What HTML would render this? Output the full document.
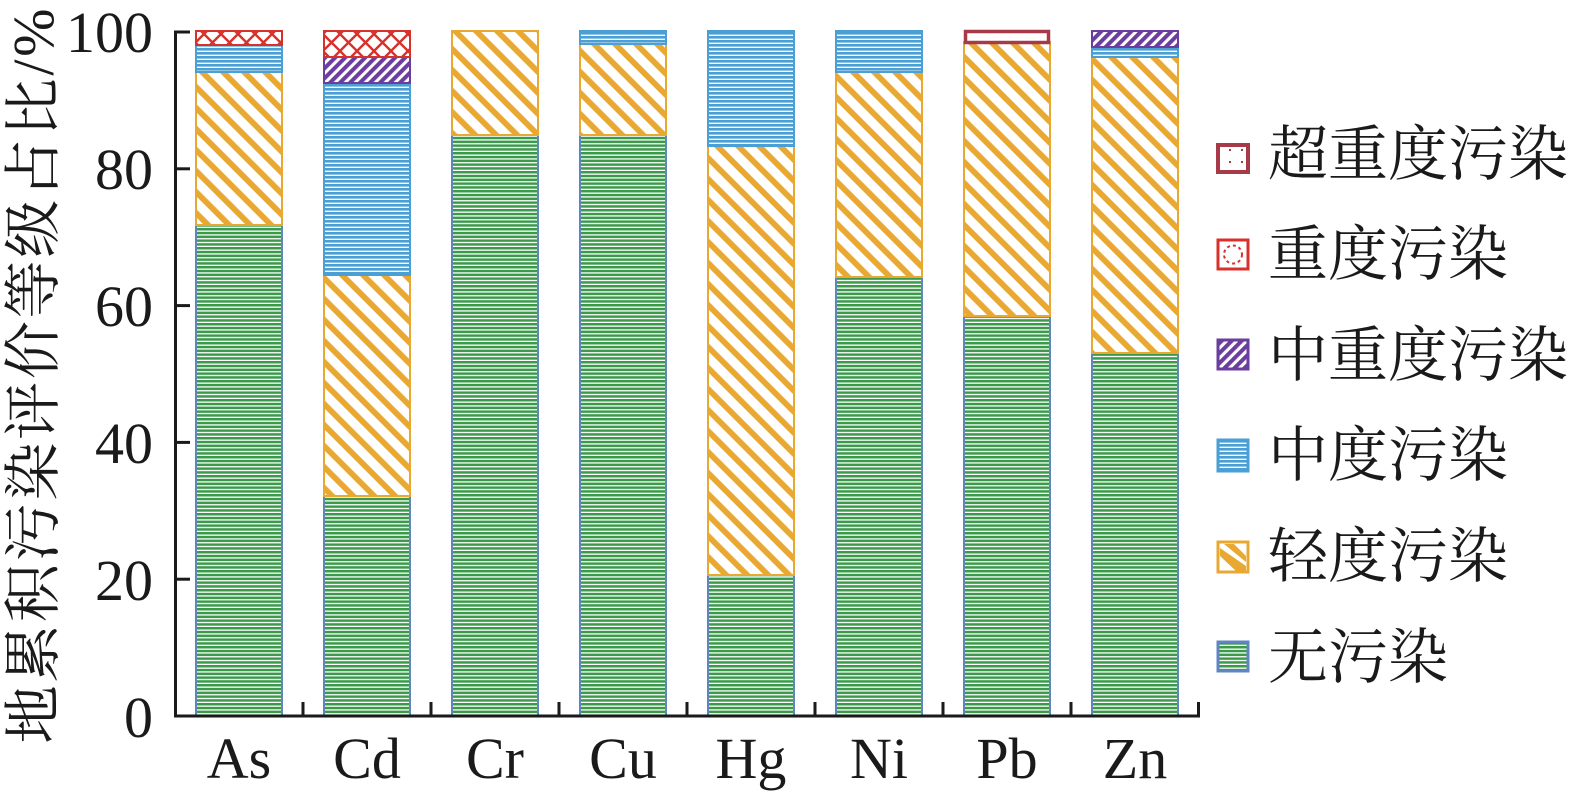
<!DOCTYPE html>
<html>
<head>
<meta charset="utf-8">
<style>
html,body{margin:0;padding:0;background:#fff;}
svg{display:block;}
</style>
</head>
<body>
<svg width="1575" height="797" viewBox="0 0 1575 797" xmlns="http://www.w3.org/2000/svg">
<defs>
  <pattern id="pGreen" patternUnits="userSpaceOnUse" width="10" height="3.8">
    <rect width="10" height="3.8" fill="#ffffff"/>
    <rect y="0" width="10" height="2.5" fill="#3a9a4a"/>
  </pattern>
  <pattern id="pBlue" patternUnits="userSpaceOnUse" width="10" height="4">
    <rect width="10" height="4" fill="#ffffff"/>
    <rect y="0" width="10" height="2.6" fill="#4a9fd4"/>
  </pattern>
  <pattern id="pOrange" patternUnits="userSpaceOnUse" width="14.85" height="14.85" patternTransform="rotate(-45)">
    <rect width="14.85" height="14.85" fill="#ffffff"/>
    <rect x="0" width="5.8" height="14.85" fill="#e8a832"/>
  </pattern>
  <pattern id="pPurple" patternUnits="userSpaceOnUse" width="7.07" height="7.07" patternTransform="rotate(45)">
    <rect width="7.07" height="7.07" fill="#ffffff"/>
    <rect x="0" width="4" height="7.07" fill="#6a3d9e"/>
  </pattern>
  <pattern id="pRed" patternUnits="userSpaceOnUse" width="17" height="17">
    <rect width="17" height="17" fill="#ffffff"/>
    <path d="M0 0 L17 17 M17 0 L0 17" stroke="#d8312c" stroke-width="2.4" fill="none"/>
  </pattern>
  <pattern id="pDark" patternUnits="userSpaceOnUse" width="12" height="12">
    <rect width="12" height="12" fill="#ffffff"/>
    <rect x="5" y="5" width="2" height="2" fill="#a63a48"/>
  </pattern>
</defs>

<!-- Bars -->
<g stroke-width="2">
  <!-- As -->
  <rect x="196" y="225" width="86" height="491" fill="url(#pGreen)" stroke="#5f86c0"/>
  <rect x="196" y="72" width="86" height="153" fill="url(#pOrange)" stroke="#e8a832"/>
  <rect x="196" y="45" width="86" height="27" fill="url(#pBlue)" stroke="#4a9fd4"/>
  <rect x="196" y="31" width="86" height="14" fill="url(#pRed)" stroke="#d8312c"/>
  <!-- Cd -->
  <rect x="324" y="496" width="86" height="220" fill="url(#pGreen)" stroke="#5f86c0"/>
  <rect x="324" y="275" width="86" height="221" fill="url(#pOrange)" stroke="#e8a832"/>
  <rect x="324" y="83" width="86" height="192" fill="url(#pBlue)" stroke="#4a9fd4"/>
  <rect x="324" y="57" width="86" height="26" fill="url(#pPurple)" stroke="#6a3d9e"/>
  <rect x="324" y="31" width="86" height="26" fill="url(#pRed)" stroke="#d8312c"/>
  <!-- Cr -->
  <rect x="452" y="135" width="86" height="581" fill="url(#pGreen)" stroke="#5f86c0"/>
  <rect x="452" y="31" width="86" height="104" fill="url(#pOrange)" stroke="#e8a832"/>
  <!-- Cu -->
  <rect x="580" y="135" width="86" height="581" fill="url(#pGreen)" stroke="#5f86c0"/>
  <rect x="580" y="44" width="86" height="91" fill="url(#pOrange)" stroke="#e8a832"/>
  <rect x="580" y="31" width="86" height="13" fill="url(#pBlue)" stroke="#4a9fd4"/>
  <!-- Hg -->
  <rect x="708" y="575" width="86" height="141" fill="url(#pGreen)" stroke="#5f86c0"/>
  <rect x="708" y="146" width="86" height="429" fill="url(#pOrange)" stroke="#e8a832"/>
  <rect x="708" y="31" width="86" height="115" fill="url(#pBlue)" stroke="#4a9fd4"/>
  <!-- Ni -->
  <rect x="836" y="277" width="86" height="439" fill="url(#pGreen)" stroke="#5f86c0"/>
  <rect x="836" y="72" width="86" height="205" fill="url(#pOrange)" stroke="#e8a832"/>
  <rect x="836" y="31" width="86" height="41" fill="url(#pBlue)" stroke="#4a9fd4"/>
  <!-- Pb -->
  <rect x="964" y="316" width="86" height="400" fill="url(#pGreen)" stroke="#5f86c0"/>
  <rect x="964" y="42" width="86" height="274" fill="url(#pOrange)" stroke="#e8a832"/>
  <rect x="965.5" y="31.5" width="83" height="11" fill="url(#pDark)" stroke="#a63a48" stroke-width="3.5"/>
  <!-- Zn -->
  <rect x="1092" y="353" width="86" height="363" fill="url(#pGreen)" stroke="#5f86c0"/>
  <rect x="1092" y="57" width="86" height="296" fill="url(#pOrange)" stroke="#e8a832"/>
  <rect x="1092" y="47" width="86" height="10" fill="url(#pBlue)" stroke="#4a9fd4"/>
  <rect x="1092" y="31" width="86" height="16" fill="url(#pPurple)" stroke="#6a3d9e"/>
</g>

<!-- Axes -->
<g stroke="#1a1a1a" stroke-width="3" fill="none">
  <line x1="175.5" y1="30.5" x2="175.5" y2="717.5"/>
  <line x1="174" y1="716" x2="1200" y2="716"/>
  <line x1="175" y1="32" x2="190" y2="32"/>
  <line x1="175" y1="168.8" x2="190" y2="168.8"/>
  <line x1="175" y1="305.6" x2="190" y2="305.6"/>
  <line x1="175" y1="442.4" x2="190" y2="442.4"/>
  <line x1="175" y1="579.2" x2="190" y2="579.2"/>
  <line x1="303" y1="702" x2="303" y2="716"/>
  <line x1="431" y1="702" x2="431" y2="716"/>
  <line x1="559" y1="702" x2="559" y2="716"/>
  <line x1="687" y1="702" x2="687" y2="716"/>
  <line x1="815" y1="702" x2="815" y2="716"/>
  <line x1="943" y1="702" x2="943" y2="716"/>
  <line x1="1071" y1="702" x2="1071" y2="716"/>
  <line x1="1198.5" y1="702" x2="1198.5" y2="717.5"/>
</g>

<!-- Y tick labels -->
<g font-family="'Liberation Serif', serif" font-size="58" fill="#1a1a1a" text-anchor="end">
  <text x="153" y="52">100</text>
  <text x="153" y="189">80</text>
  <text x="153" y="326">60</text>
  <text x="153" y="463">40</text>
  <text x="153" y="600">20</text>
  <text x="153" y="737">0</text>
</g>

<!-- X labels -->
<g font-family="'Liberation Serif', serif" font-size="58" fill="#1a1a1a" text-anchor="middle">
  <text x="239" y="778">As</text>
  <text x="367" y="778">Cd</text>
  <text x="495" y="778">Cr</text>
  <text x="623" y="778">Cu</text>
  <text x="751" y="778">Hg</text>
  <text x="879" y="778">Ni</text>
  <text x="1007" y="778">Pb</text>
  <text x="1135" y="778">Zn</text>
</g>

<!-- Y axis title -->
<text transform="translate(53,376) rotate(-90)" x="0" y="0" text-anchor="middle"
      font-family="'Liberation Serif', 'Noto Serif CJK SC', 'Noto Serif CJK JP', 'Noto Serif CJK TC', 'Noto Serif CJK', 'Noto Serif SC', serif" font-size="58" fill="#1a1a1a"
      textLength="735" lengthAdjust="spacing">地累积污染评价等级占比/%</text>

<!-- Legend -->
<g>
  <rect x="1218" y="145" width="30" height="27" fill="url(#pDark)" stroke="#a63a48" stroke-width="4"/>
  <rect x="1218" y="240" width="30" height="29" fill="#ffffff" stroke="#d8312c" stroke-width="3"/>
  <circle cx="1233" cy="254.5" r="9" fill="#ffffff" stroke="#d8312c" stroke-width="2" stroke-dasharray="3 3"/>
  <rect x="1218" y="340" width="30" height="29" fill="url(#pPurple)" stroke="#6a3d9e" stroke-width="3"/>
  <rect x="1218" y="440" width="30" height="31" fill="url(#pBlue)" stroke="#4a9fd4" stroke-width="3"/>
  <rect x="1218" y="542" width="30" height="30" fill="#ffffff" stroke="#e8a832" stroke-width="3"/>
  <path d="M1220 548 L1220 556 L1236 571 L1246 571 L1246 566 Z M1224 544 L1234 544 L1246 556 L1246 562 Z" fill="#e8a832"/>
  <rect x="1218" y="642" width="30" height="29" fill="url(#pGreen)" stroke="#5f86c0" stroke-width="3"/>
</g>
<g font-family="'Liberation Serif', 'Noto Serif CJK SC', 'Noto Serif CJK JP', 'Noto Serif CJK TC', 'Noto Serif CJK', 'Noto Serif SC', serif" font-size="60" fill="#1a1a1a">
  <text x="1268" y="175">超重度污染</text>
  <text x="1268" y="275">重度污染</text>
  <text x="1268" y="376">中重度污染</text>
  <text x="1268" y="476">中度污染</text>
  <text x="1268" y="577">轻度污染</text>
  <text x="1268" y="678">无污染</text>
</g>
</svg>
</body>
</html>
